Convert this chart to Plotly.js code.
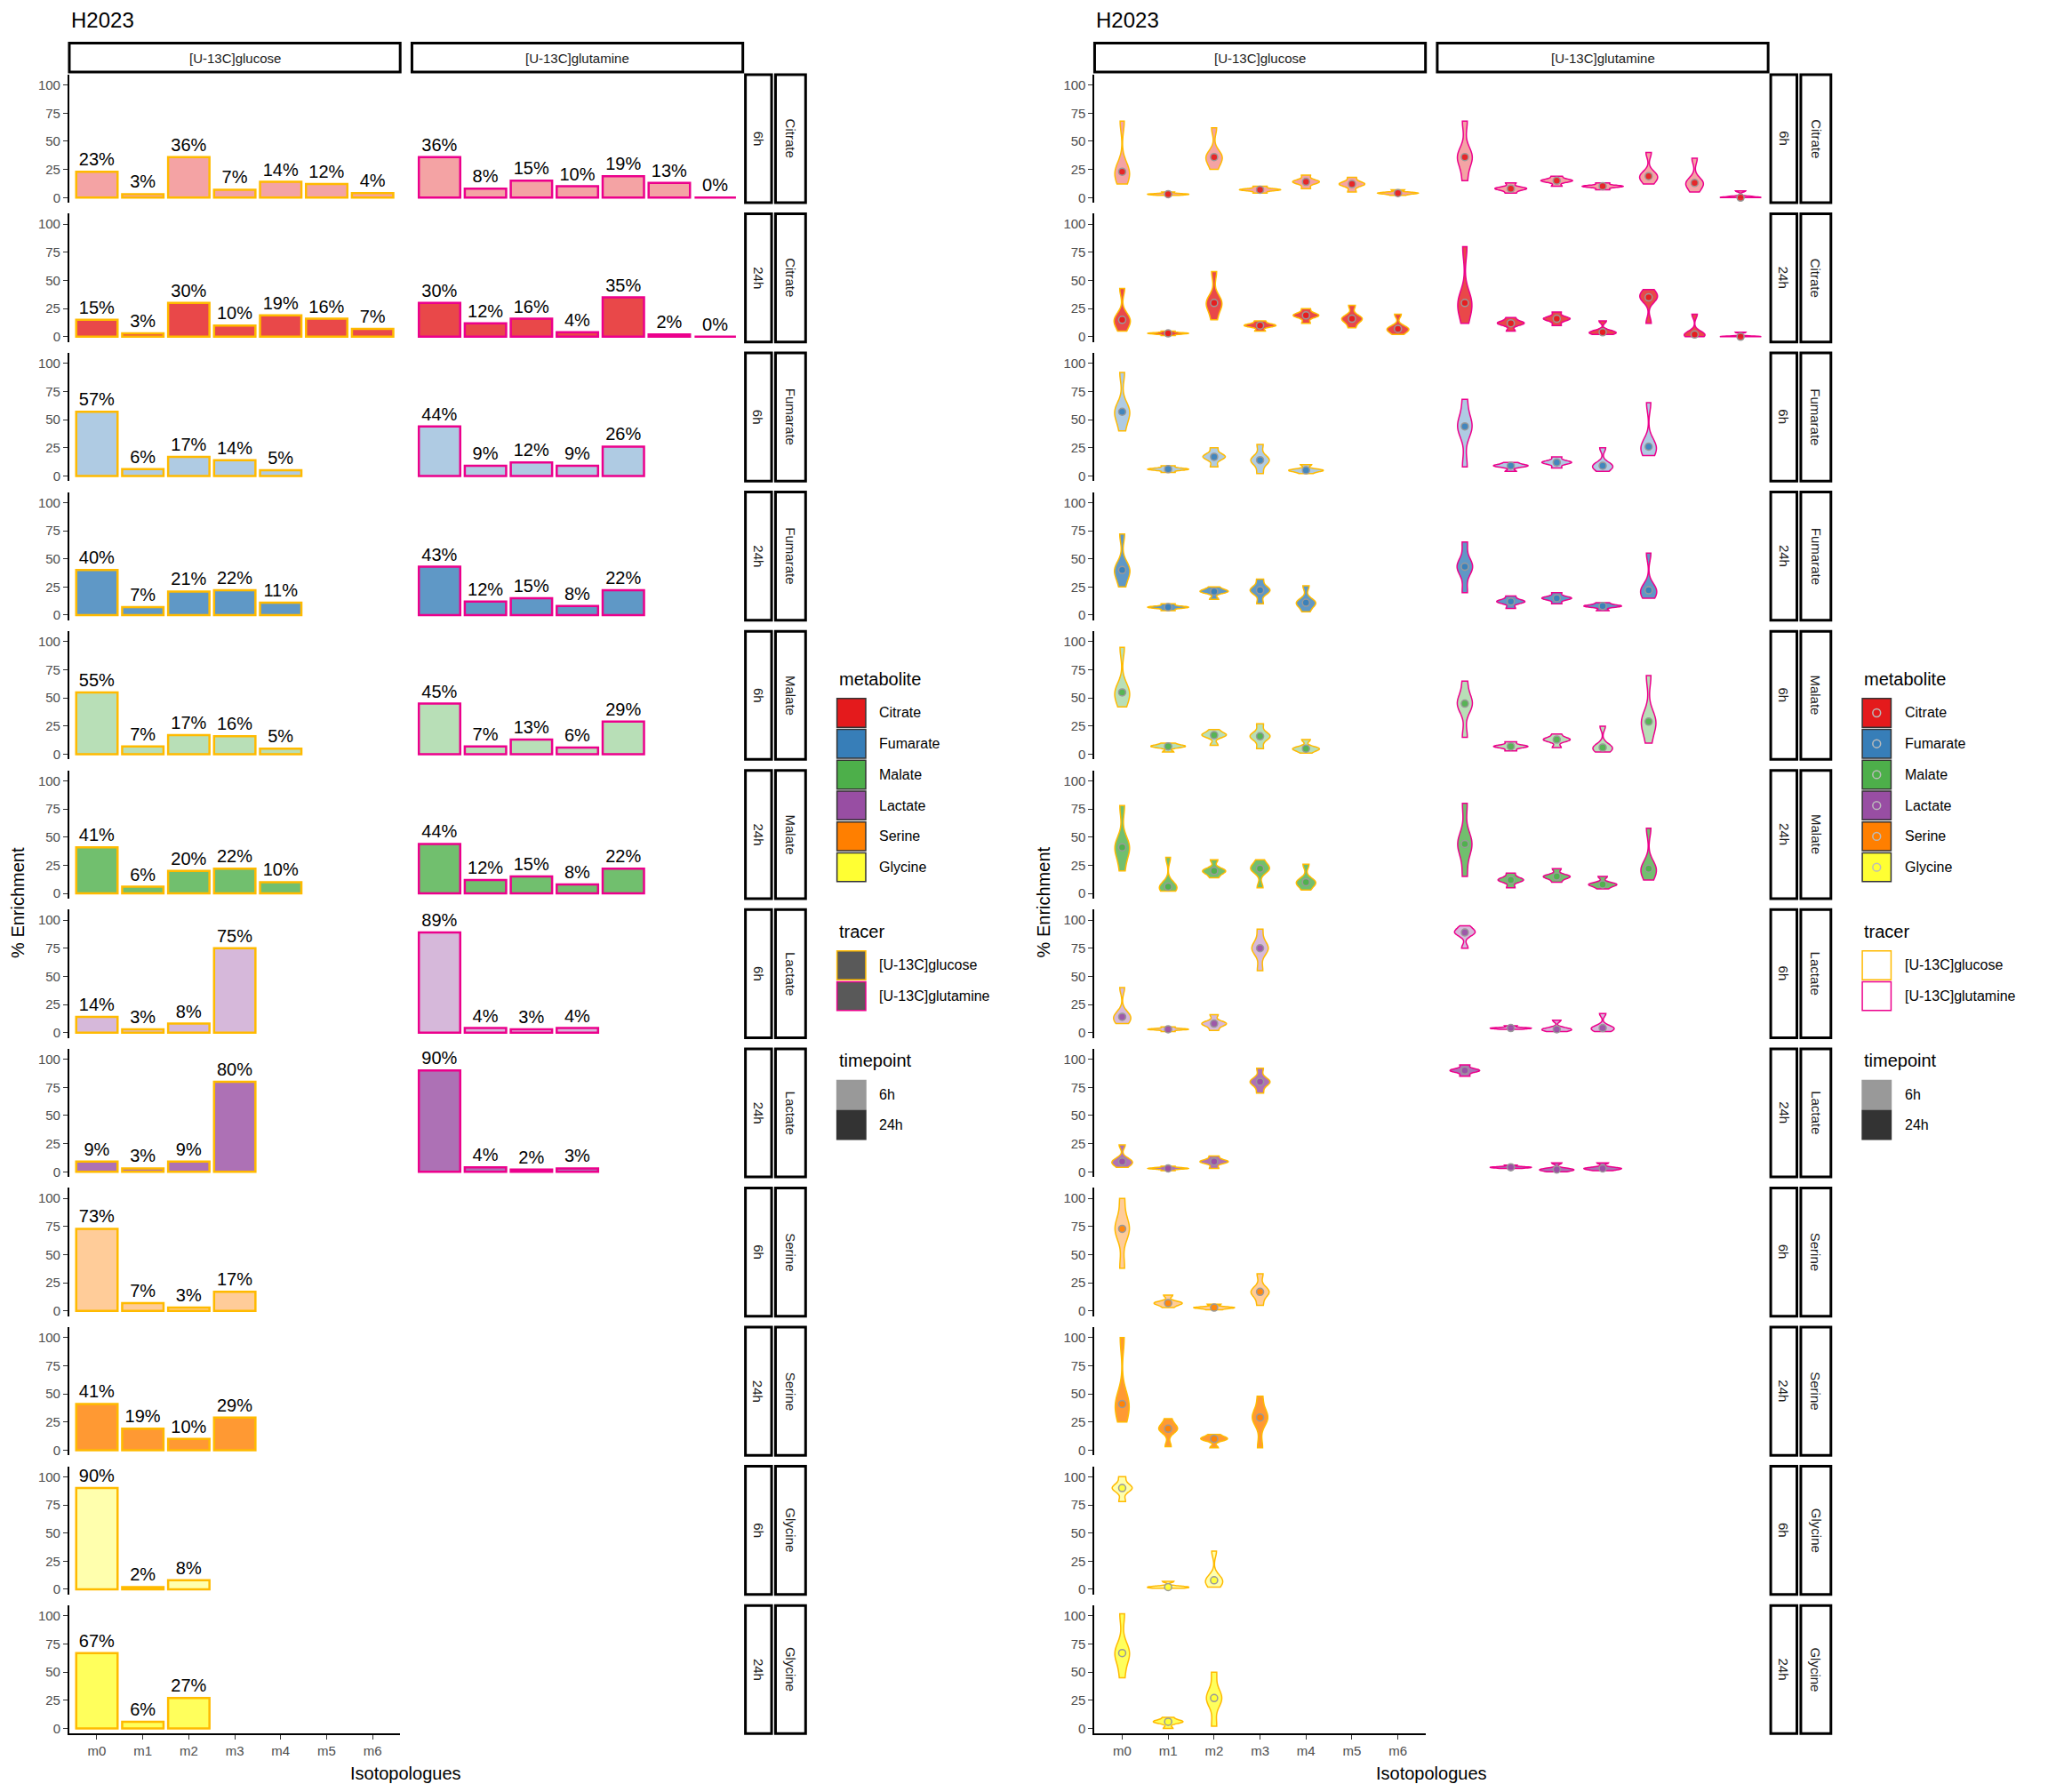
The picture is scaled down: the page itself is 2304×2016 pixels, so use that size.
<!DOCTYPE html>
<html>
<head>
<meta charset="utf-8">
<script src="https://cdn.plot.ly/plotly-3.0.1.min.js"></script>
<style>body{margin:0;background:#fff}</style>
</head>
<body>
<div id="chart" style="width:2304px;height:2016px"></div>
<script>
const isotopologues = ['m0', 'm1', 'm2', 'm3', 'm4', 'm5', 'm6']
const metabolites = ['Citrate', 'Fumarate', 'Malate', 'Lactate', 'Serine', 'Glycine']
const timepoints = ['6h', '24h']
const tracers = ['[U-13C]glucose', '[U-13C]glutamine']

// mean enrichment, one list per row (metabolite x timepoint)
const glucoseMeans = [
  [23, 3, 36, 7, 14, 12, 4], [15, 3, 30, 10, 19, 16, 7],
  [57, 6, 17, 14, 5], [40, 7, 21, 22, 11],
  [55, 7, 17, 16, 5], [41, 6, 20, 22, 10],
  [14, 3, 8, 75], [9, 3, 9, 80],
  [73, 7, 3, 17], [41, 19, 10, 29],
  [90, 2, 8], [67, 6, 27],
]
const glutamineMeans = [
  [36, 8, 15, 10, 19, 13, 0], [30, 12, 16, 4, 35, 2, 0],
  [44, 9, 12, 9, 26], [43, 12, 15, 8, 22],
  [45, 7, 13, 6, 29], [44, 12, 15, 8, 22],
  [89, 4, 3, 4], [90, 4, 2, 3],
  [], [], [], [],
]
// replicate spread (min, max)
const glucoseSpread = [
  [[12, 68], [2, 5], [25, 62], [4, 10], [8, 20], [5, 18], [2, 7]],
  [[5, 43], [1, 5], [15, 58], [5, 14], [12, 25], [8, 28], [2, 20]],
  [[40, 92], [3, 9], [8, 25], [2, 28], [2, 10]],
  [[25, 72], [4, 10], [14, 25], [10, 32], [3, 26]],
  [[42, 95], [2, 10], [8, 22], [5, 27], [1, 13]],
  [[20, 78], [2, 32], [14, 30], [5, 30], [3, 26]],
  [[8, 40], [1, 5], [2, 16], [55, 92]],
  [[4, 24], [1, 5], [3, 14], [70, 92]],
  [[38, 100], [3, 14], [1, 6], [5, 33]],
  [[25, 100], [3, 28], [2, 14], [2, 48]],
  [[78, 100], [1, 7], [2, 34]],
  [[45, 102], [0, 10], [2, 50]],
]
const glutamineSpread = [
  [[15, 68], [4, 13], [10, 19], [7, 13], [12, 40], [5, 35], [0, 6]],
  [[12, 80], [5, 17], [10, 22], [2, 14], [12, 42], [0, 20], [0, 4]],
  [[8, 68], [4, 12], [7, 17], [4, 25], [18, 65]],
  [[20, 65], [6, 17], [10, 20], [4, 11], [15, 55]],
  [[15, 65], [3, 11], [6, 18], [2, 25], [10, 70]],
  [[15, 80], [5, 18], [10, 22], [4, 15], [12, 58]],
  [[75, 95], [3, 6], [1, 11], [1, 17]],
  [[85, 95], [3, 6], [0, 8], [1, 8]],
  [], [], [], [],
]

const metColors = ['#E41A1C', '#377EB8', '#4DAF4A', '#984EA3', '#FF7F00', '#FFFF33']
const tracerColors = ['#FFBA00', '#EC008C']
const FONT = 'Liberation Sans, Arial, sans-serif'

function rgba(hex, a) {
  const n = parseInt(hex.slice(1), 16)
  return `rgba(${n >> 16},${(n >> 8) & 255},${n & 255},${a})`
}

// geometry in reference pixels (1566 x 1370)
const W = 1566, H = 1370
const fx = x => x / W
const fy = y => 1 - y / H
const panels = [{ cols: [[53, 306], [315, 568]], strip: [570, 590, 593, 616], legend: 640 },
                { cols: [[837, 1090], [1099, 1352]], strip: [1354, 1374, 1377, 1400], legend: 1424 }]
const rowTop = r => 57 + r * 106.4
const rowH = 98

const data = []
const layout = {
  width: 2304, height: 2016,
  margin: { l: 0, r: 0, t: 0, b: 0 },
  paper_bgcolor: '#fff', plot_bgcolor: 'rgba(0,0,0,0)',
  showlegend: false,
  font: { family: FONT, color: '#000' },
  shapes: [], annotations: [],
  violinmode: 'overlay',
}
const note = (x, y, text, size, extra) => layout.annotations.push(Object.assign({
  xref: 'paper', yref: 'paper', x: fx(x), y: fy(y), xanchor: 'center', yanchor: 'middle',
  text, showarrow: false, font: { size, family: FONT, color: '#000' } }, extra || {}))

let ax = 0
panels.forEach((p, pi) => {
  for (let r = 0; r < 12; r++) {
    const m = Math.floor(r / 2), t = r % 2
    for (let c = 0; c < 2; c++) {
      ax++
      const xn = 'x' + (ax === 1 ? '' : ax), yn = 'y' + (ax === 1 ? '' : ax)
      const xk = 'xaxis' + (ax === 1 ? '' : ax), yk = 'yaxis' + (ax === 1 ? '' : ax)
      const bottom = r === 11
      layout[xk] = {
        domain: [fx(p.cols[c][0]), fx(p.cols[c][1])], anchor: yn,
        type: 'category', categoryorder: 'array', categoryarray: isotopologues,
        range: [-0.6, 6.6], showgrid: false, zeroline: false,
        showline: bottom, linecolor: '#000', linewidth: 2,
        showticklabels: bottom, ticks: bottom ? 'outside' : '', ticklen: 5, tickcolor: '#333',
        tickfont: { size: 15, color: '#4d4d4d', family: FONT },
      }
      layout[yk] = {
        domain: [fy(rowTop(r) + rowH), fy(rowTop(r))], anchor: xn,
        range: [-4.6, 109.3], tickvals: [0, 25, 50, 75, 100], showgrid: false, zeroline: false,
        showline: c === 0, linecolor: '#000', linewidth: 2,
        showticklabels: c === 0, ticks: c === 0 ? 'outside' : '', ticklen: 5, tickcolor: '#333',
        tickfont: { size: 15, color: '#4d4d4d', family: FONT },
      }
      const means = c === 0 ? glucoseMeans[r] : glutamineMeans[r]
      if (!means.length) continue
      const fill = rgba(metColors[m], t === 0 ? 0.4 : 0.8)
      const xs = isotopologues.slice(0, means.length)
      if (pi === 0) {
        data.push({
          type: 'bar', x: xs, y: means, xaxis: xn, yaxis: yn,
          marker: { color: fill, line: { color: tracerColors[c], width: 2.5 } },
          width: 0.9, text: means.map(v => v + '%'), textposition: 'outside',
          cliponaxis: false, constraintext: 'none',
          textfont: { size: 20, color: '#000', family: FONT },
          hoverinfo: 'x+y',
        })
      } else {
        const spread = c === 0 ? glucoseSpread[r] : glutamineSpread[r]
        spread.forEach((s, i) => {
          const samples = [s[0], means[i], means[i], means[i], s[1]]
          const span = s[1] - s[0]
          data.push({
            type: 'violin', x: samples.map(() => isotopologues[i]), y: samples, xaxis: xn, yaxis: yn,
            fillcolor: fill, line: { color: tracerColors[c], width: 1.5 },
            spanmode: 'hard', points: false, box: { visible: false }, meanline: { visible: false },
            bandwidth: Math.max(span / 6, 0.6),
            width: Math.min(0.9, 0.25 + 4 / Math.max(span, 4)), scalemode: 'width', hoverinfo: 'y',
          })
        })
        data.push({
          type: 'scatter', mode: 'markers', x: xs, y: means, xaxis: xn, yaxis: yn,
          marker: { size: 8, color: rgba(metColors[m], 0.9), line: { color: '#999', width: 1.5 } },
          cliponaxis: false, hoverinfo: 'y',
        })
      }
    }
    // right strips
    const [a0, a1, b0, b1] = p.strip
    const yt = rowTop(r), yb = rowTop(r) + rowH
    ;[[a0, a1, timepoints[t]], [b0, b1, metabolites[m]]].forEach(([s0, s1, txt]) => {
      layout.shapes.push({ type: 'rect', xref: 'paper', yref: 'paper', x0: fx(s0), x1: fx(s1), y0: fy(yb), y1: fy(yt),
        line: { color: '#000', width: 3 }, fillcolor: '#fff', layer: 'below' })
      note((s0 + s1) / 2, (yt + yb) / 2, txt, 15, { textangle: 90, font: { size: 15, family: FONT, color: '#1a1a1a' } })
    })
  }
  // top strips
  p.cols.forEach((cc, c) => {
    layout.shapes.push({ type: 'rect', xref: 'paper', yref: 'paper', x0: fx(cc[0]), x1: fx(cc[1]), y0: fy(55), y1: fy(33),
      line: { color: '#000', width: 3 }, fillcolor: '#fff', layer: 'below' })
    note((cc[0] + cc[1]) / 2, 44.5, tracers[c], 15, { font: { size: 15, family: FONT, color: '#1a1a1a' } })
  })
  const x0 = p.cols[0][0]
  note(x0, 15, 'H2023', 24, { xanchor: 'left' })
  note(x0 - 39, 690, '% Enrichment', 20, { textangle: -90 })
  note((p.cols[0][0] + p.cols[1][1]) / 2, 1356, 'Isotopologues', 20)
  // legends
  const L = p.legend
  const title = (txt, y) => note(L, y, txt, 20, { xanchor: 'left' })
  const item = (y, fill, line, label, dot) => {
    layout.shapes.push({ type: 'rect', xref: 'paper', yref: 'paper', x0: fx(L), x1: fx(L + 22), y0: fy(y + 11), y1: fy(y - 11),
      fillcolor: fill, line: { color: line, width: 1.5 } })
    if (dot) layout.shapes.push({ type: 'circle', xref: 'paper', yref: 'paper', x0: fx(L + 8), x1: fx(L + 14), y0: fy(y + 3), y1: fy(y - 3),
      fillcolor: 'rgba(0,0,0,0)', line: { color: '#bbb', width: 1.5 } })
    note(L + 31, y, label, 16, { xanchor: 'left' })
  }
  title('metabolite', 519)
  metabolites.forEach((mm, i) => item(545 + i * 23.6, metColors[i], '#333', mm, pi === 1))
  title('tracer', 712)
  tracers.forEach((tt, i) => item(738 + i * 23.5, pi === 0 ? '#595959' : '#fff', tracerColors[i], tt, false))
  title('timepoint', 811)
  item(837, '#999', '#999', '6h', false)
  item(860, '#333', '#333', '24h', false)
})

Plotly.newPlot('chart', data, layout, { displayModeBar: false, staticPlot: true })
</script>
</body>
</html>
